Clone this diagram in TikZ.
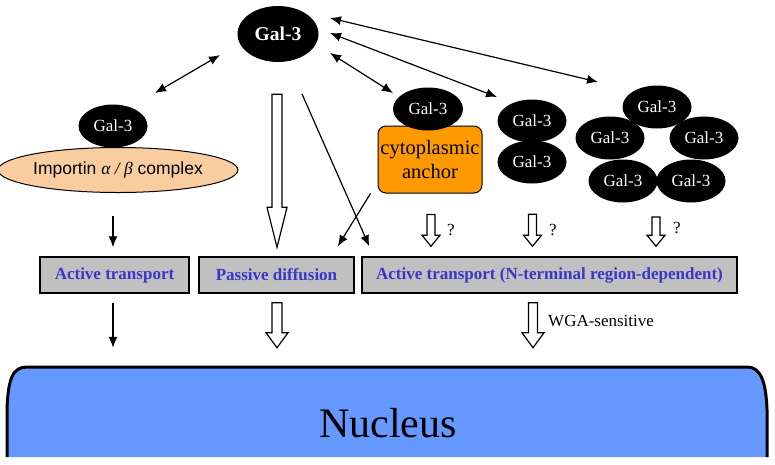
\documentclass[tikz,border=0pt]{standalone}
\usepackage{fontspec}
\setmainfont{Liberation Serif}
\setsansfont{Liberation Sans}
\usetikzlibrary{arrows.meta,calc,shapes.geometric}
\definecolor{nucblue}{RGB}{102,153,255}
\definecolor{peach}{RGB}{250,205,160}
\definecolor{anchororange}{RGB}{255,153,0}
\definecolor{boxgray}{RGB}{192,192,192}
\definecolor{labelblue}{RGB}{55,55,200}
\tikzset{
  galbig/.style={ellipse, fill=black, text=white, font=\fontsize{19.5}{21}\selectfont\bfseries, minimum width=81pt, minimum height=56pt, inner sep=0pt},
  galsmall/.style={ellipse, fill=black, text=white, font=\fontsize{17}{18}\selectfont, minimum width=69pt, minimum height=43pt, inner sep=0pt},
  pathbox/.style={draw=black, line width=1.5pt, fill=boxgray, text=labelblue, font=\fontsize{17}{19}\selectfont\bfseries, minimum height=36pt, inner sep=0pt},
  thinarrow/.style={line width=1.2pt, -{Latex[length=11pt,width=9pt]}},
  dblarrow/.style={line width=1.2pt, {Latex[length=11pt,width=9pt]}-{Latex[length=11pt,width=9pt]}},
  hollowarrow/.style={draw=black, line width=1.2pt, fill=white, line join=miter},
  sidelabel/.style={font=\fontsize{17}{19}\selectfont, anchor=west, inner sep=0pt}
}
% #1 start, #2 tip, #3 half shaft, #4 half head, #5 head length
\newcommand\harrow[5]{%
  \draw[hollowarrow] let \p1=(#1), \p2=(#2) in
    (\x1-#3pt,\y1) -- (\x1-#3pt,\y2+#5pt) -- (\x1-#4pt,\y2+#5pt) -- (\x1,\y2)
    -- (\x1+#4pt,\y2+#5pt) -- (\x1+#3pt,\y2+#5pt) -- (\x1+#3pt,\y1) -- cycle;}
\begin{document}
\begin{tikzpicture}[x=1pt,y=-1pt]
\useasboundingbox (0,0) rectangle (775,464);
% nucleus
\fill[nucblue] (7,457) -- (7,410) .. controls (8,378) and (13,367) .. (27,367) -- (747,367) .. controls (760,367) and (766,380) .. (767,410) -- (767,457) -- cycle;
\draw[line width=3pt] (7,457) -- (7,410) .. controls (8,378) and (13,367) .. (27,367) -- (747,367) .. controls (760,367) and (766,380) .. (767,410) -- (767,457);
\node[font=\fontsize{42}{46}\selectfont, inner sep=0pt] (nuc) at (388,423) {Nucleus};
% top Gal-3
\node[galbig] (gal) at (278,34) {Gal-3};
% importin complex
\node[draw=black, line width=1pt, fill=peach, ellipse, minimum width=204pt, minimum height=45pt, inner sep=0pt, font=\sffamily\fontsize{17.5}{19}\selectfont] (imp) at (118,170) {Importin {\rmfamily\itshape α / β} complex};
\node[galsmall] (galL) at (113,126) {Gal-3};
% cytoplasmic anchor
\node[draw=black, line width=1pt, fill=anchororange, rounded corners=8pt, minimum width=104pt, minimum height=67pt, align=center, inner sep=0pt, font=\fontsize{20.5}{24}\selectfont] (anc) at (430,159.5) {cytoplasmic\\anchor};
\node[galsmall, minimum width=70pt] (ga) at (428,109) {Gal-3};
% dimer
\node[galsmall] (d2) at (532,162) {Gal-3};
\node[galsmall] (d1) at (532,121) {Gal-3};
% ring
\node[galsmall] (r1) at (657,107) {Gal-3};
\node[galsmall] (r2) at (610,138) {Gal-3};
\node[galsmall] (r3) at (704,138) {Gal-3};
\node[galsmall] (r4) at (623,181) {Gal-3};
\node[galsmall] (r5) at (691,181) {Gal-3};
% pathway boxes
\node[pathbox, minimum width=149pt] (at) at (114.5,275) {Active transport};
\node[pathbox, minimum width=155pt] (pd) at (276.5,275) {Passive diffusion};
\node[pathbox, minimum width=375pt] (nb) at (549.5,275) {Active transport (N-terminal region-dependent)};
% double arrows
\draw[dblarrow] ($(gal)+(-58,21)$) -- ($(galL)+(42,-33)$);
\draw[dblarrow] ($(gal)+(52,19)$) -- ($(ga)+(-35,-16)$);
\draw[dblarrow] ($(gal)+(52,-1)$) -- ($(d1)+(-35,-24)$);
\draw[dblarrow] ($(gal)+(52,-16)$) -- ($(r1)+(-59,-25)$);
% crossing thin arrows
\draw[thinarrow] ($(gal)+(24,60)$) -- ($(nb.north west)+(8,-10)$);
\draw[thinarrow] ($(anc.south west)+(-7,0)$) -- ($(pd.north east)+(-17,-10)$);
% left column
\draw[thinarrow] ($(imp.south)+(-5,23)$) -- ($(at.north)+(-1.5,-9)$);
\draw[thinarrow] ($(at.south)+(-1.5,9)$) -- ($(at.south)+(-1.5,54)$);
% hollow arrows
\harrow{$(gal.south)+(-1,32)$}{$(pd.north)+(0,-9)$}{5}{10}{40}
\harrow{$(pd.south)+(0.5,9)$}{$(pd.south)+(0.5,54)$}{5}{11}{15}
\harrow{$(nb.south)+(-16.5,9)$}{$(nb.south)+(-16.5,54)$}{4.5}{11}{15}
\harrow{$(anc.south)+(1,21)$}{$(nb.north)+(0,-10)$}{4}{9}{11}
\harrow{$(d2.south)+(0.5,30.5)$}{$(nb.north)+(0,-10)$}{4}{9}{11}
\harrow{$(r1)+(-1,110)$}{$(nb.north)+(0,-10)$}{4}{9}{11}
% side labels
\node[sidelabel] (q1) at (447,229.5) {?};
\node[sidelabel] (q2) at (549,229.5) {?};
\node[sidelabel] (q3) at (673,227.5) {?};
\node[sidelabel] (wga) at (548,321) {WGA-sensitive};
\end{tikzpicture}
\end{document}
